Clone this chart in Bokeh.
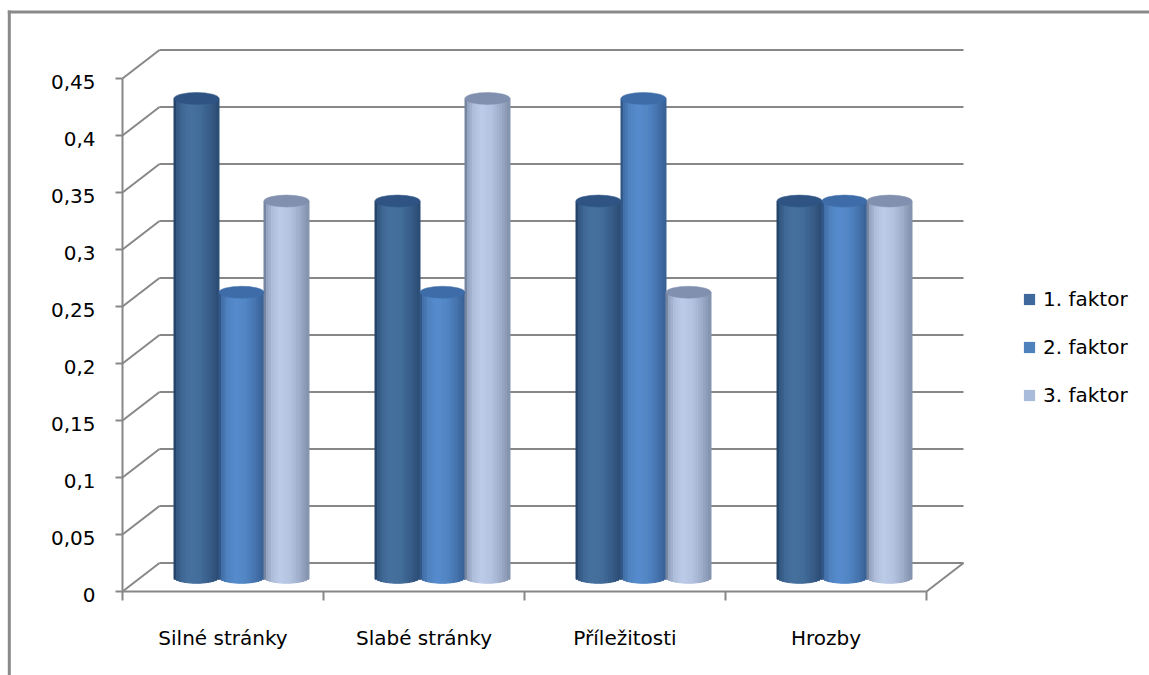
import numpy as np
from bokeh.plotting import figure
from bokeh.models import ColumnDataSource, Range1d, Legend, LegendItem
from bokeh.core.properties import value
from bokeh.embed import file_html
from bokeh.resources import INLINE

# ---------------- data ----------------
categories = ["Silné stránky", "Slabé stránky", "Příležitosti", "Hrozby"]
series_names = ["1. faktor", "2. faktor", "3. faktor"]
faktor1 = [0.42, 0.33, 0.33, 0.33]
faktor2 = [0.25, 0.25, 0.42, 0.33]
faktor3 = [0.33, 0.42, 0.25, 0.33]
y_ticks = [0, 0.05, 0.1, 0.15, 0.2, 0.25, 0.3, 0.35, 0.4, 0.45]
y_tick_labels = ["0", "0,05", "0,1", "0,15", "0,2", "0,25", "0,3", "0,35", "0,4", "0,45"]

# ---------------- layout constants ----------------
W, H = 1149, 675
AX_X, CAT_PX = 122, 201       # front value axis x, pixels per category
AX_Y, VAL_PX = 591, 1140      # front zero line y, pixels per value unit
FONT = value("DejaVu Sans")
FS = "20px"
GRID = "#878787"

def xd(px):
    return (px - AX_X) / CAT_PX

def yd(py):
    return (AX_Y - py) / VAL_PX

DX = 37 / CAT_PX       # depth offset (x)
DY = 28.5 / VAL_PX     # depth offset (y)
BAR_W = 45 / CAT_PX
ELL_H = 12 / VAL_PX
NCAT = len(categories)

p = figure(width=W, height=H, x_range=Range1d(xd(0), xd(W)), y_range=Range1d(yd(H), yd(0)),
           x_axis_type=None, y_axis_type=None, toolbar_location=None,
           output_backend="svg", min_border=0)
p.outline_line_color = None
p.background_fill_color = "white"
p.border_fill_color = "white"

# ---------------- outer frame ----------------
p.segment(x0=[xd(8.8), xd(7.3)], y0=[yd(10), yd(11.5)],
          x1=[xd(8.8), xd(W + 20)], y1=[yd(H + 20), yd(11.5)],
          line_color="#8a8a8a", line_width=3)

# ---------------- walls / gridlines ----------------
gx0, gy0, gx1, gy1 = [], [], [], []
for t in y_ticks:
    gx0.append(DX); gy0.append(t + DY); gx1.append(NCAT + DX); gy1.append(t + DY)
    gx0.append(0); gy0.append(t); gx1.append(DX); gy1.append(t + DY)
gx0.append(NCAT); gy0.append(0); gx1.append(NCAT + DX); gy1.append(DY)
gx0.append(0); gy0.append(0); gx1.append(0); gy1.append(y_ticks[-1])
gx0.append(0); gy0.append(0); gx1.append(NCAT); gy1.append(0)
for t in y_ticks:
    gx0.append(xd(AX_X - 7)); gy0.append(t); gx1.append(0); gy1.append(t)
for i in range(NCAT + 1):
    gx0.append(i); gy0.append(0); gx1.append(i); gy1.append(yd(AX_Y + 9))
p.segment(x0=gx0, y0=gy0, x1=gx1, y1=gy1, line_color=GRID, line_width=2)

# ---------------- cylinders ----------------
def hex2rgb(h):
    return tuple(int(h[i:i + 2], 16) for i in (1, 3, 5))

def mix(c1, c2, t):
    return "#%02x%02x%02x" % tuple(int(round(a + (b - a) * t)) for a, b in zip(c1, c2))

prof_u = [-0.5, -0.42, -0.3, -0.12, 0.1, 0.3, 0.45, 0.5]
prof_v = [0.0, 0.55, 0.85, 1.0, 0.9, 0.65, 0.4, 0.3]
dark = [hex2rgb("#1e3a5f"), hex2rgb("#2a4c7a"), hex2rgb("#66758f")]
light = [hex2rgb("#46719f"), hex2rgb("#568ccd"), hex2rgb("#bccbe8")]
top_cols = ["#2f5484", "#3e6ca8", "#8090ae"]
swatch = ["#3f689c", "#4f81bd", "#a9bbdb"]
series = [faktor1, faktor2, faktor3]
NS = 18

sl, sr, sb, st, sc = [], [], [], [], []
tx, ty, tc = [], [], []
for j, vals in enumerate(series):
    for i, v in enumerate(vals):
        xc = i + 0.5 + DX / 2 + (j - 1) * BAR_W
        for k in range(NS):
            u0 = -0.5 + k / NS
            u1 = u0 + 1 / NS
            um = (u0 + u1) / 2
            sl.append(xc + u0 * BAR_W)
            sr.append(xc + u1 * BAR_W)
            sb.append(DY / 2 - ELL_H / 2 * np.sqrt(max(0.0, 1 - (2 * um) ** 2)))
            st.append(DY / 2 + v)
            sc.append(mix(dark[j], light[j], float(np.interp(um, prof_u, prof_v))))
        tx.append(xc); ty.append(DY / 2 + v); tc.append(top_cols[j])

strips = ColumnDataSource(dict(left=sl, right=sr, bottom=sb, top=st, color=sc))
p.quad(left="left", right="right", bottom="bottom", top="top", source=strips,
       fill_color="color", line_color="color", line_width=1)
tops = ColumnDataSource(dict(x=tx, y=ty, color=tc))
p.ellipse(x="x", y="y", width=BAR_W, height=ELL_H, source=tops,
          fill_color="color", line_color="color", line_width=0.5)

# ---------------- tick labels ----------------
p.text(x=[0] * len(y_ticks), y=y_ticks, text=y_tick_labels, text_align="right",
       text_baseline="middle", x_offset=-27, y_offset=3, text_font=FONT,
       text_font_size=FS, text_color="black")
p.text(x=[i + 0.5 for i in range(NCAT)], y=[0] * NCAT, text=categories,
       text_align="center", text_baseline="middle", y_offset=46, text_font=FONT,
       text_font_size=FS, text_color="black")

# ---------------- legend ----------------
items = []
off = xd(-100)
for j, name in enumerate(series_names):
    r = p.quad(left=[off], right=[off], top=[0], bottom=[0],
               fill_color=swatch[j], line_color=None)
    items.append(LegendItem(label=name, renderers=[r]))
legend = Legend(items=items, location=(1022, H - 407), glyph_width=14, glyph_height=14,
                label_height=24, spacing=24, padding=0, margin=0, label_standoff=7,
                label_text_font="DejaVu Sans", label_text_font_size=FS,
                label_text_color="black", border_line_color=None,
                background_fill_alpha=0)
p.add_layout(legend)

open("out.html", "w").write(file_html(p, INLINE))
